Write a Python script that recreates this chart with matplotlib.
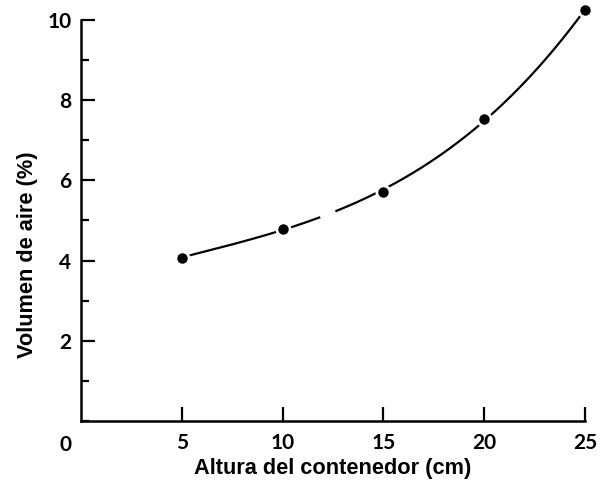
import numpy as np
from matplotlib import pyplot as plt
from matplotlib.ticker import MultipleLocator

# container height (cm) and air volume (%)
altura = np.array([5, 10, 15, 20, 25])
volumen_aire = np.array([4.07, 4.80, 5.72, 7.52, 10.25])

x_ticks = [5, 10, 15, 20, 25]
y_ticks = [2, 4, 6, 8, 10]

fig = plt.figure(figsize=(6.11, 4.83), dpi=100)
ax = fig.add_axes([0.1326, 0.1284, 0.8248, 0.8302])

# smooth trend curve through the measurements, broken by a small gap
coef = np.polyfit(altura, volumen_aire, 3)
xs = np.linspace(altura.min(), altura.max(), 400)
ys = np.polyval(coef, xs)
ys[(xs > 11.9) & (xs < 12.6)] = np.nan
ax.plot(xs, ys, "k-", lw=1.6, clip_on=False, solid_capstyle="butt")
ax.plot(altura, volumen_aire, "o", color="k", ms=8, mec="white", mew=3.5,
        clip_on=False, zorder=3)
ax.plot(altura, volumen_aire, "o", color="k", ms=7.5, mew=0,
        clip_on=False, zorder=4)

ax.set_xlim(0, 25)
ax.set_ylim(0, 10)
ax.spines[["top", "right"]].set_visible(False)
ax.spines[["left", "bottom"]].set_linewidth(1.8)

ax.set_xticks(x_ticks)
ax.set_yticks(y_ticks)
ax.yaxis.set_minor_locator(MultipleLocator(1))
ax.tick_params(axis="x", direction="in", length=10, width=1.6, pad=9)
ax.tick_params(axis="y", direction="in", length=10, width=1.6, pad=7)
ax.tick_params(axis="y", which="minor", direction="in", length=6, width=1.6)
for lab in ax.get_xticklabels() + ax.get_yticklabels():
    lab.set_fontfamily("Lato")
    lab.set_fontweight("bold")
    lab.set_fontsize(15)
ax.text(-0.018, -0.035, "0", transform=ax.transAxes, ha="right", va="top",
        fontfamily="Lato", fontweight="bold", fontsize=15)

ax.set_xlabel("Altura del contenedor (cm)", fontfamily="Liberation Sans",
              fontweight="bold", fontsize=15.7, labelpad=3)
ax.set_ylabel("Volumen de aire (%)", fontfamily="Liberation Sans",
              fontweight="bold", fontsize=15.7)
ax.yaxis.set_label_coords(-0.085, 0.414)

fig.savefig("out.png", dpi=100)
